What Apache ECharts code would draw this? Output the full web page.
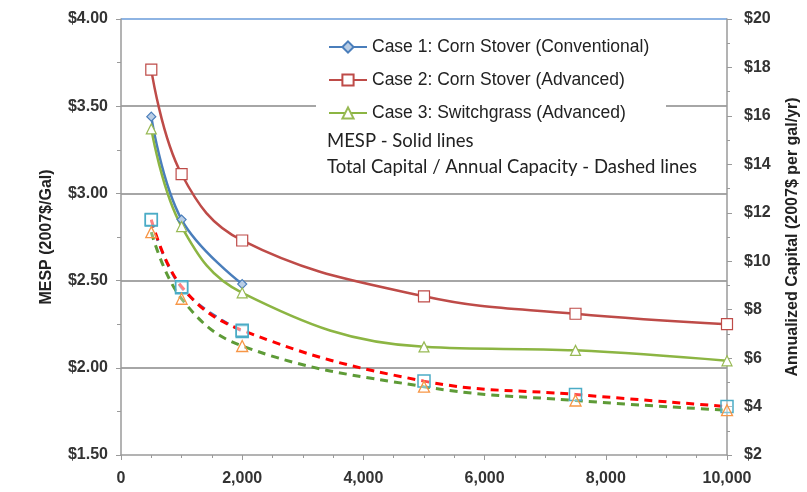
<!DOCTYPE html>
<html><head><meta charset="utf-8">
<script src="https://cdn.jsdelivr.net/npm/echarts@6/dist/echarts.min.js"></script>
<style>html,body{margin:0;padding:0;background:#fff}#c{width:807px;height:492px}</style>
</head><body><div id="c"></div>
<script>
// x: plant capacity
const xCase1 = [500, 1000, 2000];
const xAll = [500, 1000, 2000, 5000, 7500, 10000];
// MESP (left axis, $/gal) - solid lines
const mespCase1 = [3.44, 2.85, 2.48];
const mespCase2 = [3.71, 3.11, 2.73, 2.41, 2.31, 2.25];
const mespCase3 = [3.37, 2.81, 2.43, 2.12, 2.10, 2.04];
// Annualized capital (right axis) - dashed lines
const capCase1 = [11.70, 8.90, 7.10];
const capCase2 = [11.72, 8.95, 7.15, 5.05, 4.50, 4.00];
const capCase3 = [11.20, 8.45, 6.50, 4.82, 4.25, 3.85];
const leftTicks = [1.5, 2.0, 2.5, 3.0, 3.5, 4.0];
const rightTicks = [2, 4, 6, 8, 10, 12, 14, 16, 18, 20];
const xTicks = [0, 2000, 4000, 6000, 8000, 10000];

const pair = (xs, ys) => xs.map((x, i) => [x, ys[i]]);
const chart = echarts.init(document.getElementById('c'));
const axisLbl = {color: '#333', fontSize: 16, fontWeight: 'bold', fontFamily: 'Liberation Sans, Arial'};
chart.setOption({
  animation: false,
  grid: {left: 121, right: 80, top: 19, bottom: 37, outerBoundsMode: 'none', containLabel: false},
  xAxis: {
    type: 'value', min: xTicks[0], max: xTicks[xTicks.length - 1], interval: 2000,
    axisLine: {lineStyle: {color: '#9a9a9a', width: 1.5}},
    axisTick: {show: true, length: 5, lineStyle: {color: '#9a9a9a'}},
    minorTick: {show: true, splitNumber: 4, length: 3, lineStyle: {color: '#9a9a9a'}},
    splitLine: {show: false},
    axisLabel: Object.assign({}, axisLbl, {margin: 16, formatter: v => v.toLocaleString('en-US')})
  },
  yAxis: [{
    type: 'value', min: leftTicks[0], max: leftTicks[leftTicks.length - 1], interval: 0.5,
    name: 'MESP (2007$/Gal)', nameLocation: 'middle', nameGap: 66, nameRotate: 90,
    nameTextStyle: {color: '#222', fontSize: 16, fontWeight: 'bold', fontFamily: 'Liberation Sans, Arial'},
    axisLine: {show: true, lineStyle: {color: '#9a9a9a', width: 1.5}},
    axisTick: {show: true, length: 5, lineStyle: {color: '#9a9a9a'}},
    minorTick: {show: true, splitNumber: 2, length: 4, lineStyle: {color: '#9a9a9a'}},
    splitLine: {show: true, lineStyle: {color: ['rgba(0,0,0,0)', '#a6a6a6', '#a6a6a6', '#a6a6a6', '#a6a6a6', '#8eb4e3'], width: 2}},
    axisLabel: Object.assign({}, axisLbl, {margin: 13, formatter: v => '$' + v.toFixed(2)})
  }, {
    type: 'value', min: rightTicks[0], max: rightTicks[rightTicks.length - 1], interval: 2,
    name: 'Annualized Capital (2007$ per gal/yr)', nameLocation: 'middle', nameGap: 58, nameRotate: 90,
    nameTextStyle: {color: '#222', fontSize: 16, fontWeight: 'bold', fontFamily: 'Liberation Sans, Arial'},
    axisLine: {show: true, lineStyle: {color: '#9a9a9a', width: 1.5}},
    axisTick: {show: true, length: 5, lineStyle: {color: '#9a9a9a'}},
    minorTick: {show: true, splitNumber: 2, length: 3, lineStyle: {color: '#9a9a9a'}},
    splitLine: {show: false},
    axisLabel: Object.assign({}, axisLbl, {margin: 17, formatter: v => '$' + v})
  }],
  legend: {
    orient: 'vertical', left: 323, top: 33, itemGap: 15, itemWidth: 38, itemHeight: 14,
    textStyle: {color: '#222', fontSize: 17.5, lineHeight: 18, fontFamily: 'Liberation Sans, Arial'},
    data: ['Case 1: Corn Stover (Conventional)', 'Case 2: Corn Stover (Advanced)', 'Case 3: Switchgrass (Advanced)']
  },
  graphic: [
    {type: 'rect', z: 1, shape: {x: 316, y: 22, width: 350, height: 162}, style: {fill: '#fff'}},
    {type: 'text', z: 5, left: 327, top: 132, style: {text: 'MESP - Solid lines', fill: '#222', font: '18.5px Lato, Open Sans'}},
    {type: 'text', z: 5, left: 327, top: 158, style: {text: 'Total Capital / Annual Capacity - Dashed lines', fill: '#222', font: '18.5px Lato, Open Sans'}}
  ],
  series: [
    {name: 'Case 1: Corn Stover (Conventional)', type: 'line', yAxisIndex: 0, smooth: 0.4,
     data: pair(xCase1, mespCase1), symbol: 'diamond', symbolSize: 9, z: 4,
     lineStyle: {color: '#4a7ebb', width: 2.5}, itemStyle: {color: '#b9cde5', borderColor: '#4a7ebb', borderWidth: 1.2}},
    {name: 'Case 2: Corn Stover (Advanced)', type: 'line', yAxisIndex: 0, smooth: 0.4,
     data: pair(xAll, mespCase2), symbol: 'rect', symbolSize: 11, z: 4,
     lineStyle: {color: '#be4b48', width: 2.5}, itemStyle: {color: '#fff', borderColor: '#be4b48', borderWidth: 1.2}},
    {name: 'Case 3: Switchgrass (Advanced)', type: 'line', yAxisIndex: 0, smooth: 0.4,
     data: pair(xAll, mespCase3), symbol: 'triangle', symbolSize: 10, z: 4,
     lineStyle: {color: '#8cb543', width: 2.5}, itemStyle: {color: '#fff', borderColor: '#98b954', borderWidth: 1.2}},
    {name: 'Capital Case 1', type: 'line', yAxisIndex: 1, smooth: 0.4,
     data: pair(xCase1, capCase1), symbol: 'rect', symbolSize: 12, z: 3,
     lineStyle: {color: '#4a7ebb', width: 2.5, type: [8, 6]}, itemStyle: {color: 'rgba(255,255,255,0.3)', borderColor: '#4bacc6', borderWidth: 1.5}},
    {name: 'Capital Case 2', type: 'line', yAxisIndex: 1, smooth: 0.4,
     data: pair(xAll, capCase2), symbol: 'rect', symbolSize: 12, z: 3,
     lineStyle: {color: '#ff0000', width: 3, type: [8, 6]}, itemStyle: {color: 'rgba(255,255,255,0.3)', borderColor: '#4bacc6', borderWidth: 1.5}},
    {name: 'Capital Case 3', type: 'line', yAxisIndex: 1, smooth: 0.4,
     data: pair(xAll, capCase3), symbol: 'triangle', symbolSize: 11, z: 3,
     lineStyle: {color: '#5e9b37', width: 3, type: [8, 6]}, itemStyle: {color: 'rgba(255,255,255,0.3)', borderColor: '#f79646', borderWidth: 1.3}}
  ]
});
</script></body></html>
